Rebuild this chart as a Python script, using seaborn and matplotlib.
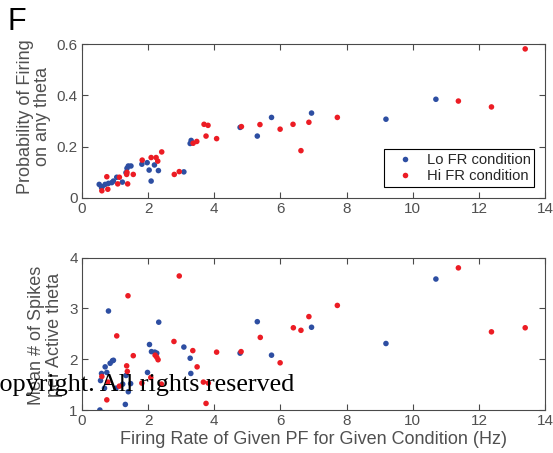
import matplotlib
matplotlib.use("Agg")
import matplotlib.pyplot as plt
import seaborn as sns
import pandas as pd

# Firing rate (Hz) and probability of firing on any theta cycle
prob_lo_rate = [0.52, 0.59, 0.61, 0.70, 0.80, 0.90, 0.95, 1.05, 1.22, 1.33, 1.36, 1.40,
                1.48, 1.81, 1.97, 2.03, 2.09, 2.19, 2.31, 3.08, 3.27, 3.30, 4.78, 5.30,
                5.73, 6.94, 9.19, 10.70]
prob_lo_val = [0.052, 0.040, 0.043, 0.052, 0.056, 0.059, 0.065, 0.080, 0.061, 0.098, 0.115,
               0.124, 0.124, 0.131, 0.137, 0.108, 0.065, 0.128, 0.106, 0.101, 0.212, 0.224,
               0.275, 0.241, 0.314, 0.331, 0.307, 0.385]
prob_hi_rate = [0.60, 0.75, 0.78, 1.08, 1.13, 1.35, 1.36, 1.38, 1.55, 1.82, 2.09, 2.24,
                2.29, 2.41, 2.79, 2.94, 3.36, 3.47, 3.69, 3.75, 3.81, 4.07, 4.82, 5.38,
                5.99, 6.38, 6.62, 6.86, 7.72, 11.38, 12.38, 13.40]
prob_hi_val = [0.027, 0.082, 0.033, 0.054, 0.080, 0.091, 0.099, 0.054, 0.091, 0.147, 0.157,
               0.157, 0.143, 0.179, 0.091, 0.102, 0.213, 0.220, 0.287, 0.241, 0.283, 0.231,
               0.278, 0.286, 0.268, 0.287, 0.184, 0.295, 0.314, 0.378, 0.355, 0.582]

# Firing rate (Hz) and mean number of spikes per active theta cycle
spk_lo_rate = [0.54, 0.56, 0.59, 0.68, 0.70, 0.75, 0.80, 0.85, 0.92, 0.95, 1.03, 1.23,
               1.31, 1.33, 1.40, 1.47, 1.98, 2.04, 2.10, 2.20, 2.26, 2.32, 3.08, 3.27,
               3.29, 4.78, 5.30, 5.73, 6.94, 9.19, 10.70]
spk_lo_val = [1.00, 1.58, 1.72, 1.43, 1.85, 1.74, 2.95, 1.92, 1.97, 1.98, 1.43, 1.51,
              1.11, 1.68, 1.36, 1.52, 1.74, 2.29, 2.15, 2.14, 2.12, 2.73, 2.24, 2.02,
              1.72, 2.12, 2.74, 2.08, 2.63, 2.31, 3.58]
spk_hi_rate = [0.60, 0.75, 0.78, 1.05, 1.13, 1.35, 1.37, 1.39, 1.55, 1.81, 2.08, 2.21,
               2.26, 2.30, 2.40, 2.78, 2.94, 3.35, 3.48, 3.67, 3.75, 3.82, 4.07, 4.81,
               5.39, 5.99, 6.39, 6.62, 6.86, 7.72, 11.38, 12.38, 13.40]
spk_hi_val = [1.66, 1.20, 1.55, 2.46, 1.47, 1.87, 1.76, 3.25, 2.07, 1.53, 1.64, 2.08,
              2.04, 1.99, 1.51, 2.35, 3.64, 2.17, 1.85, 1.55, 1.13, 1.53, 2.14, 2.15,
              2.43, 1.93, 2.62, 2.57, 2.84, 3.06, 3.80, 2.54, 2.62]

conditions = ["Lo FR condition", "Hi FR condition"]
x_ticks = [0, 2, 4, 6, 8, 10, 12, 14]
prob_ticks = [0, 0.2, 0.4, 0.6]
prob_tick_labels = ["0", "0.2", "0.4", "0.6"]
spk_ticks = [1, 2, 3, 4]

BLUE = "#2d4ea2"
RED = "#ec1c24"
AX_GREY = "#4a4a4a"
TXT_GREY = "#505050"

sns.set_style("white")
plt.rcParams["font.family"] = ["Liberation Sans", "DejaVu Sans"]


def frame(lo_rate, lo_val, hi_rate, hi_val):
    return pd.DataFrame({
        "rate": list(lo_rate) + list(hi_rate),
        "value": list(lo_val) + list(hi_val),
        "cond": [conditions[0]] * len(lo_rate) + [conditions[1]] * len(hi_rate),
    })


def style_axes(ax):
    for sp in ax.spines.values():
        sp.set_visible(True)
        sp.set_color(AX_GREY)
        sp.set_linewidth(0.8)
    ax.tick_params(direction="in", length=4, width=0.8, color=AX_GREY,
                   labelcolor=TXT_GREY, labelsize=11, top=True, right=True,
                   bottom=True, left=True, pad=3)


fig = plt.figure(figsize=(5.53, 4.53), dpi=100)
ax1 = fig.add_axes([0.1483, 0.5636, 0.8373, 0.3386])
ax2 = fig.add_axes([0.1483, 0.0949, 0.8373, 0.3362])

palette = {conditions[0]: BLUE, conditions[1]: RED}

sns.scatterplot(data=frame(prob_lo_rate, prob_lo_val, prob_hi_rate, prob_hi_val),
                x="rate", y="value", hue="cond", hue_order=conditions, palette=palette,
                s=16, linewidth=0, ax=ax1)
sns.scatterplot(data=frame(spk_lo_rate, spk_lo_val, spk_hi_rate, spk_hi_val),
                x="rate", y="value", hue="cond", hue_order=conditions, palette=palette,
                s=16, linewidth=0, ax=ax2, legend=False)

ax1.set_xlim(0, 14)
ax1.set_ylim(0, 0.6)
ax1.set_xticks(x_ticks)
ax1.set_yticks(prob_ticks)
ax1.set_yticklabels(prob_tick_labels)
ax1.set_xlabel("")
ax1.set_ylabel("Probability of Firing\non any theta", color=TXT_GREY, fontsize=13,
               linespacing=1.05)
ax1.yaxis.set_label_coords(-0.066, 0.53)

ax2.set_xlim(0, 14)
ax2.set_ylim(1, 4)
ax2.set_xticks(x_ticks)
ax2.set_yticks(spk_ticks)
ax2.set_xlabel("Firing Rate of Given PF for Given Condition (Hz)", color=TXT_GREY,
               fontsize=13, labelpad=2)
ax2.set_ylabel("Mean # of Spikes\nper Active theta", color=TXT_GREY, fontsize=13,
               linespacing=1.05)
ax2.yaxis.set_label_coords(-0.041, 0.49)

for ax in (ax1, ax2):
    style_axes(ax)

leg = ax1.legend(loc="lower right", bbox_to_anchor=(0.977, 0.072), frameon=True,
                 fancybox=False, fontsize=10.6, handletextpad=0.27, borderpad=0.25,
                 labelspacing=0.14, markerscale=1.0, handlelength=2.4,
                 borderaxespad=0)
leg.get_frame().set_edgecolor("black")
leg.get_frame().set_linewidth(0.8)
leg.get_frame().set_alpha(1)
leg.set_title(None)

fig.text(8 / 553, 1 - 30 / 453, "F", fontsize=22, color="black", ha="left",
         va="baseline")
fig.text(294 / 553, 1 - 391 / 453, "Copyright. All rights reserved",
         family=["Liberation Serif", "DejaVu Serif"], fontsize=18.8, color="black",
         ha="right", va="baseline")

fig.savefig("out.png", dpi=100)
